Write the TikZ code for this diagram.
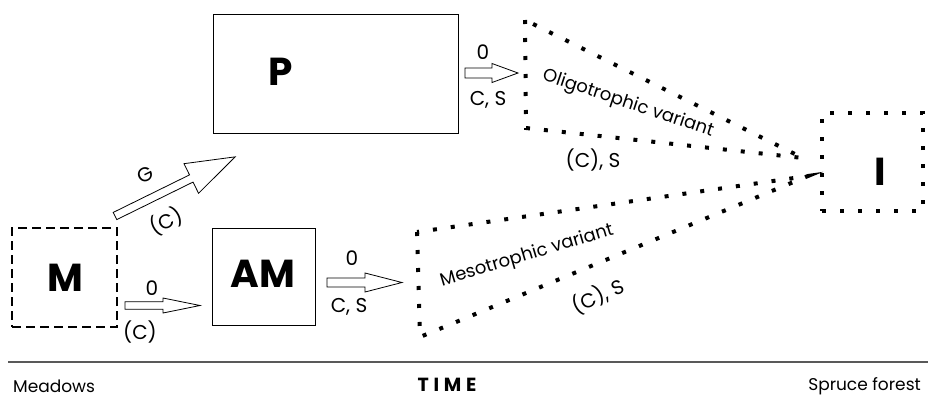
\documentclass[tikz,border=0pt]{standalone}
\usepackage{fontspec}
\setmainfont{Poppins}
\usetikzlibrary{calc}
\tikzset{
  dashbox/.style={draw, line width=2.6pt, dash pattern=on 9pt off 5pt},
  dotline/.style={line width=4pt, dash pattern=on 4pt off 14pt},
  blockarrow/.style={draw, line width=0.8pt, fill=white, line join=miter},
  lbl/.style={font=\fontsize{20}{20}\selectfont, inner sep=0pt},
  vlbl/.style={font=\fontsize{18}{18}\selectfont, inner sep=0pt},
  big/.style={font=\fontsize{39}{39}\selectfont\bfseries, inner sep=0pt},
  foot/.style={font=\fontsize{17}{17}\selectfont, inner sep=0pt}
}
\newcommand\hollowarrow[7]{% x y angle length headlength shafthalf headhalf
  \draw[blockarrow, shift={(#1,#2)}, rotate=#3]
    (0,-#6) -- ({#4-#5},-#6) -- ({#4-#5},-#7) -- (#4,0) -- ({#4-#5},#7) -- ({#4-#5},#6) -- (0,#6) -- cycle;}
\begin{document}
\begin{tikzpicture}[x=1pt,y=-1pt]
\useasboundingbox (0,0) rectangle (928,397);
% boxes
\node[dashbox, minimum width=105pt, minimum height=99pt] (M) at (64.5,277.5) {};
\node[big] (Mt) at (65,278) {M};
\node[draw, line width=1pt, minimum width=103pt, minimum height=97pt] (AM) at (263.5,276.5) {};
\node[big] (AMt) at (263,274) {AM};
\node[draw, line width=1pt, minimum width=245pt, minimum height=119pt] (P) at (335.5,73.5) {};
\node[big] (Pt) at (281,72) {P};
\node[dotline, draw, minimum width=101pt, minimum height=98pt] (I) at (872.5,162) {};
\node[big] (It) at (880,172) {I};
% wedges
\coordinate (o1) at (525,20);
\coordinate (o2) at (526,128);
\coordinate (o3) at (803,158);
\draw[dotline] (o1) -- (o2) -- (o3) -- cycle;
\coordinate (m1) at (417,232);
\coordinate (m2) at (420,337);
\coordinate (m3) at (808,176);
\draw[dotline] (m1) -- (m2) -- (m3) -- cycle;
\node[vlbl, rotate=-18.5] (oligo) at (628,104) {Oligotrophic variant};
\node[lbl] (ocs) at (593,160) {(C), S};
\node[vlbl, rotate=16.7] (meso) at (527,256) {Mesotrophic variant};
\node[lbl, rotate=25] (mcs) at (598,296) {(C), S};
% block arrows
\hollowarrow{115}{216}{26.2}{134}{49}{4}{16.5}
\hollowarrow{125}{305.5}{0}{75}{37}{3.8}{7.5}
\hollowarrow{327}{282.5}{0}{75}{37}{4.5}{9.5}
\hollowarrow{465}{73}{0}{53}{26}{5}{9.5}
% arrow labels
\node[lbl, rotate=26.2] (g) at (145,175) {G};
\node[lbl, rotate=26.2] (gc) at (166,221) {(C)};
\node[lbl] (z1) at (152,288) {0};
\node[lbl] (c1) at (140,332) {(C)};
\node[lbl] (z2) at (352,258) {0};
\node[lbl] (c2) at (349,307) {C, S};
\node[lbl] (z3) at (483,52) {0};
\node[lbl] (c3) at (488,100) {C, S};
% time axis
\coordinate (t1) at (8,362);
\coordinate (t2) at (928,362);
\draw[line width=1.3pt, black!65] (t1) -- (t2);
\node[foot, anchor=west] (mead) at (13,386) {Meadows};
\node[foot, anchor=east] (spr) at (921,386) {Spruce forest};
\node[font=\fontsize{19}{19}\selectfont\bfseries\addfontfeatures{LetterSpace=25}, inner sep=0pt] (time) at (447,385) {TIME};
\end{tikzpicture}
\end{document}
